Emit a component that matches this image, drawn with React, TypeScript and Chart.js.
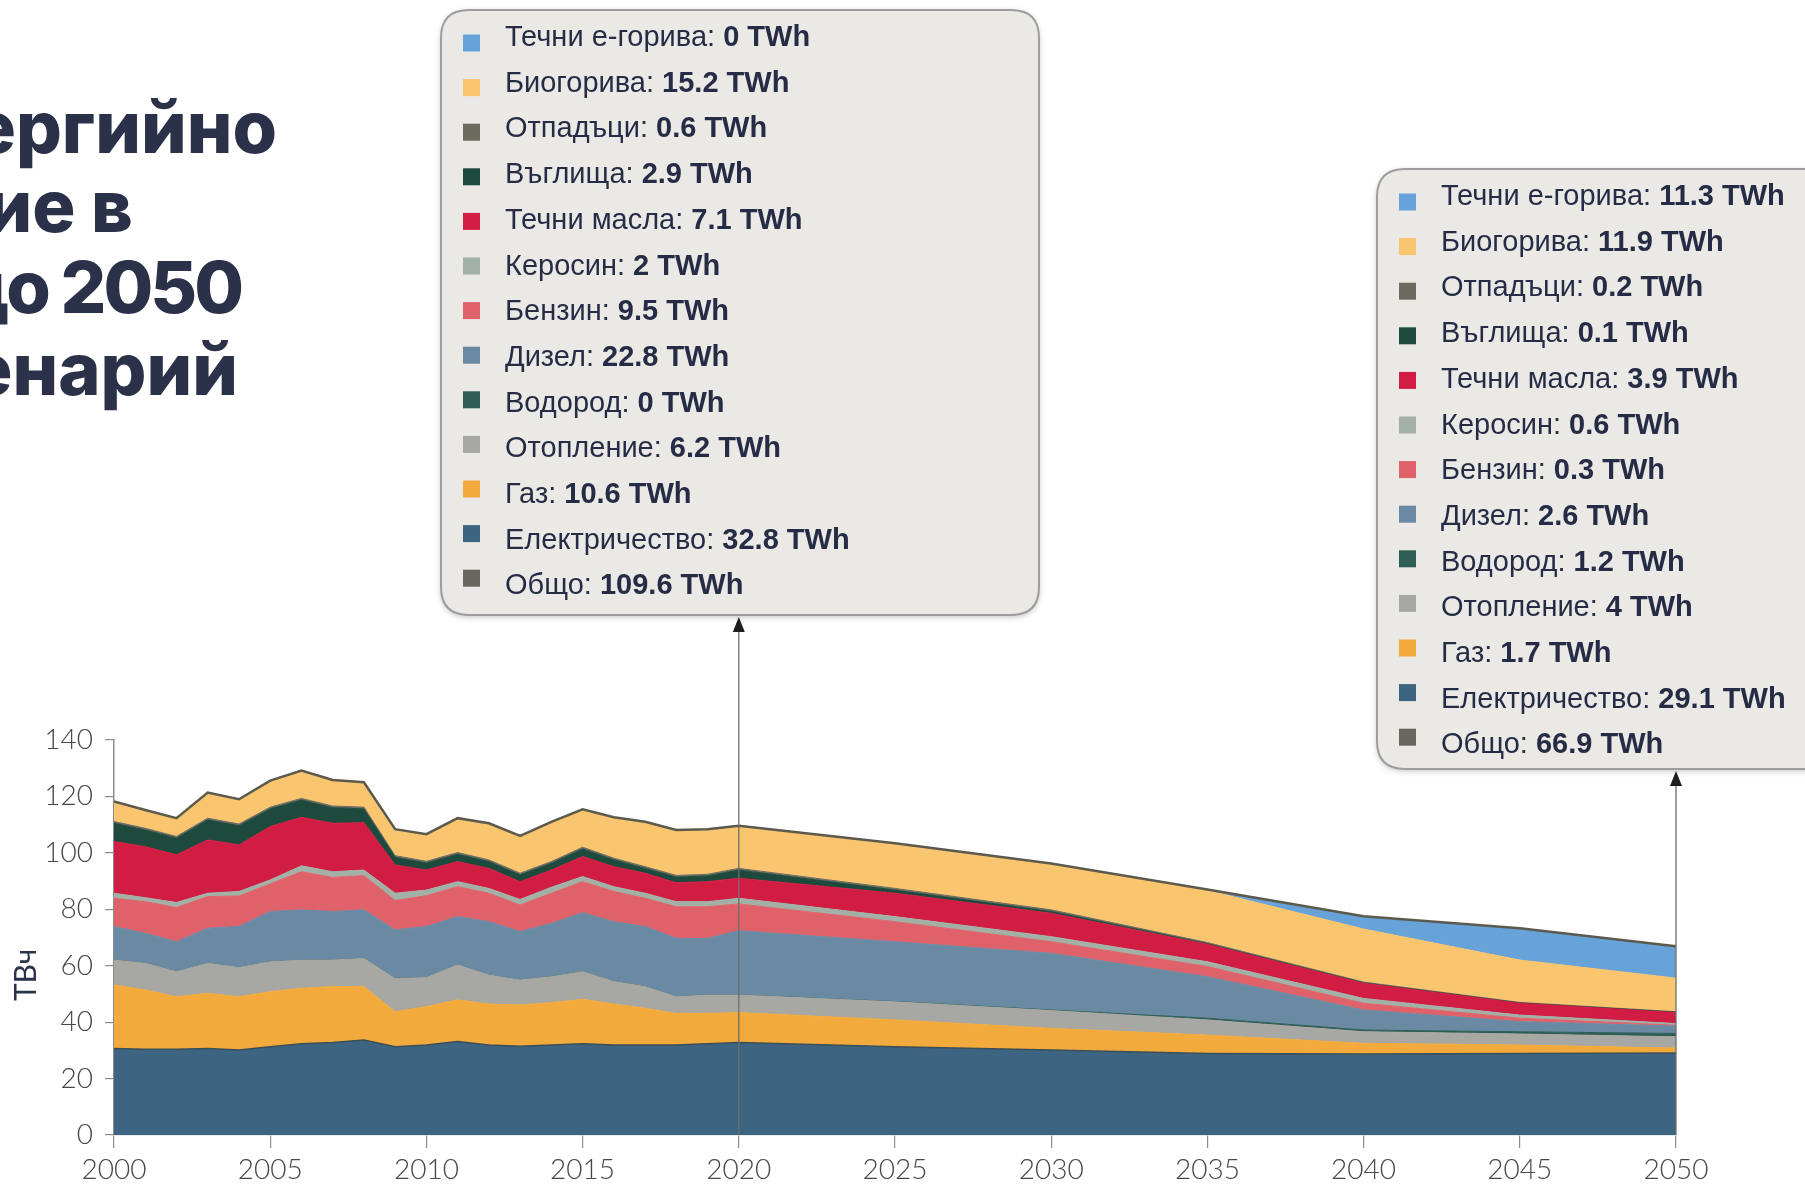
import React, { useEffect, useRef } from "react";
import { Chart, registerables } from "chart.js";

Chart.register(...registerables);

// ---------- DATA ----------
const YEARS = [
  2000, 2001, 2002, 2003, 2004, 2005, 2006, 2007, 2008, 2009, 2010, 2011, 2012, 2013,
  2014, 2015, 2016, 2017, 2018, 2019, 2020, 2025, 2030, 2035, 2040, 2045, 2050,
];

const ELECTRICITY = [30.7, 30.4, 30.4, 30.7, 30.1, 31.3, 32.3, 32.8, 33.7, 31.3, 31.9, 33.1, 31.9, 31.5, 31.9, 32.3, 31.9, 31.9, 31.9, 32.3, 32.8, 31.3, 30.1, 28.9, 28.7, 28.9, 29.1];
const GAS = [22.5, 21.0, 18.6, 19.5, 18.9, 19.5, 19.7, 19.8, 18.9, 12.4, 13.6, 14.8, 14.5, 14.6, 15.0, 15.8, 14.5, 13.0, 11.2, 10.8, 10.6, 9.5, 7.7, 6.5, 3.8, 3.0, 1.7];
const HEATING = [8.8, 9.5, 8.9, 10.7, 10.4, 10.6, 10.0, 9.4, 10.0, 11.8, 10.3, 12.4, 10.3, 8.8, 9.2, 9.8, 8.0, 7.7, 5.9, 6.5, 6.2, 6.4, 6.3, 5.4, 4.1, 3.9, 4.0];
const HYDROGEN = [0, 0, 0, 0, 0, 0, 0, 0, 0, 0, 0, 0, 0, 0, 0, 0, 0, 0, 0, 0, 0, 0.1, 0.2, 0.6, 0.6, 0.8, 1.2];
const DIESEL = [11.9, 10.6, 10.6, 12.4, 14.5, 17.8, 17.8, 17.2, 17.2, 17.2, 18.1, 17.1, 18.9, 17.2, 18.9, 20.9, 21.2, 21.3, 20.7, 20.1, 22.8, 21.2, 20.1, 14.7, 7.1, 3.6, 2.6];
const PETROL = [10.0, 11.2, 12.1, 11.2, 10.8, 9.8, 13.5, 12.1, 12.1, 10.4, 10.9, 10.6, 10.1, 9.4, 10.7, 11.0, 10.7, 10.0, 11.2, 11.2, 9.5, 7.1, 4.1, 3.6, 2.4, 1.2, 0.3];
const KEROSENE = [1.8, 1.4, 1.8, 1.2, 1.6, 1.4, 2.1, 2.0, 2.0, 2.6, 2.0, 1.8, 1.7, 2.0, 2.1, 1.8, 1.7, 1.8, 1.8, 1.8, 2.0, 1.8, 1.8, 1.7, 1.7, 1.1, 0.6];
const LIQUID_OILS = [18.3, 18.1, 16.9, 18.9, 16.5, 18.9, 17.2, 17.2, 16.8, 10.0, 7.1, 7.1, 7.1, 6.3, 6.1, 7.1, 7.1, 7.1, 6.7, 7.1, 7.1, 8.3, 8.3, 6.2, 5.4, 4.2, 3.9];
const COAL = [6.5, 5.9, 5.9, 7.1, 6.8, 6.3, 6.1, 5.5, 4.9, 2.7, 2.5, 2.6, 2.4, 2.4, 2.4, 2.7, 2.4, 1.7, 2.0, 2.0, 2.9, 1.1, 0.6, 0.2, 0.1, 0.1, 0.1];
const WASTE = [0.6, 0.6, 0.6, 0.6, 0.6, 0.6, 0.6, 0.6, 0.6, 0.6, 0.6, 0.6, 0.6, 0.6, 0.6, 0.6, 0.6, 0.6, 0.6, 0.6, 0.6, 0.6, 0.6, 0.4, 0.3, 0.2, 0.2];
const BIOFUELS = [7.1, 6.5, 6.5, 9.1, 8.8, 9.4, 9.9, 9.2, 8.8, 9.4, 9.6, 12.2, 13.0, 13.2, 14.1, 13.4, 14.5, 15.9, 16.1, 16.0, 15.2, 16.0, 16.4, 18.5, 18.8, 15.0, 11.9];
const E_FUELS = [0, 0, 0, 0, 0, 0, 0, 0, 0, 0, 0, 0, 0, 0, 0, 0, 0, 0, 0, 0, 0, 0, 0, 0.3, 4.5, 11.3, 11.3];
const TOTAL = [118.2, 115.2, 112.3, 121.4, 119.0, 125.6, 129.2, 125.8, 125.0, 108.4, 106.6, 112.3, 110.5, 106.0, 111.0, 115.4, 112.6, 111.0, 108.1, 108.4, 109.6, 103.4, 96.2, 87.0, 77.5, 73.3, 66.9];

// bottom -> top stacking order
const SERIES = [
  { label: "Електричество", data: ELECTRICITY, color: "#3d6481" },
  { label: "Газ", data: GAS, color: "#f3aa3c" },
  { label: "Отопление", data: HEATING, color: "#a7a7a3" },
  { label: "Водород", data: HYDROGEN, color: "#2e5d55" },
  { label: "Дизел", data: DIESEL, color: "#6a8aa4" },
  { label: "Бензин", data: PETROL, color: "#df6169" },
  { label: "Керосин", data: KEROSENE, color: "#a2b0a5" },
  { label: "Течни масла", data: LIQUID_OILS, color: "#d11c43" },
  { label: "Въглища", data: COAL, color: "#1d4a3c" },
  { label: "Отпадъци", data: WASTE, color: "#6b6b60" },
  { label: "Биогорива", data: BIOFUELS, color: "#f9c56f" },
  { label: "Течни е-горива", data: E_FUELS, color: "#67a3d8" },
];
const TOTAL_LABEL = "Общо";
const TOTAL_COLOR = "#5b5a4c";
const TOTAL_SQUARE = "#67675f";

const Y_TICKS_MAX = 140;
const Y_AXIS_TITLE = "ТВч";
const UNIT = "TWh";
const TOOLTIP_YEARS = [2020, 2050];

const TITLE_LINES = ["ергийно", "ие в", "до 2050", "енарий"];

// ---------- STYLE / LAYOUT ----------
const TOOLTIP_BOXES = [
  { x: 441, y: 10, w: 598, h: 605 },
  { x: 1377, y: 169, w: 520, h: 600 },
];
const TEXT_COLOR = "#262c45";
const TICK_FONT = { family: "Lato, 'DejaVu Sans', sans-serif", size: 28, weight: "300" };

function roundRectPath(ctx: CanvasRenderingContext2D, x: number, y: number, w: number, h: number, r: number) {
  ctx.beginPath();
  ctx.moveTo(x + r, y);
  ctx.lineTo(x + w - r, y);
  ctx.quadraticCurveTo(x + w, y, x + w, y + r);
  ctx.lineTo(x + w, y + h - r);
  ctx.quadraticCurveTo(x + w, y + h, x + w - r, y + h);
  ctx.lineTo(x + r, y + h);
  ctx.quadraticCurveTo(x, y + h, x, y + h - r);
  ctx.lineTo(x, y + r);
  ctx.quadraticCurveTo(x, y, x + r, y);
  ctx.closePath();
}

const overlayPlugin = {
  id: "overlay",
  afterDraw(chart: any) {
    const ctx: CanvasRenderingContext2D = chart.ctx;
    const xs = chart.scales.x;
    const area = chart.chartArea;

    // y axis title
    ctx.save();
    ctx.translate(26, 975);
    ctx.rotate(-Math.PI / 2);
    ctx.font = "30px Lato, 'DejaVu Sans', sans-serif";
    ctx.fillStyle = "#2a3149";
    ctx.textAlign = "center";
    ctx.textBaseline = "middle";
    ctx.fillText(Y_AXIS_TITLE, 0, 0);
    ctx.restore();

    TOOLTIP_YEARS.forEach((year, t) => {
      const box = TOOLTIP_BOXES[t];
      const idx = YEARS.indexOf(year);
      const px = xs.getPixelForValue(year);
      const tipY = box.y + box.h + 2;

      // vertical guide line + arrow
      ctx.save();
      ctx.strokeStyle = "#6e6e6e";
      ctx.lineWidth = 1.3;
      ctx.beginPath();
      ctx.moveTo(px, tipY + 12);
      ctx.lineTo(px, area.bottom);
      ctx.stroke();
      ctx.fillStyle = "#1e1e1e";
      ctx.beginPath();
      ctx.moveTo(px, tipY);
      ctx.lineTo(px - 6, tipY + 15);
      ctx.lineTo(px + 6, tipY + 15);
      ctx.closePath();
      ctx.fill();
      ctx.restore();

      // box
      ctx.save();
      ctx.shadowColor = "rgba(0,0,0,0.25)";
      ctx.shadowBlur = 6;
      ctx.shadowOffsetY = 2;
      roundRectPath(ctx, box.x, box.y, box.w, box.h, 28);
      ctx.fillStyle = "#ebe9e5";
      ctx.fill();
      ctx.shadowColor = "transparent";
      ctx.lineWidth = 2;
      ctx.strokeStyle = "#9d9d9d";
      ctx.stroke();
      ctx.restore();

      const rows = [...SERIES].reverse().map((s) => ({ label: s.label, value: s.data[idx], color: s.color }));
      rows.push({ label: TOTAL_LABEL, value: TOTAL[idx], color: TOTAL_SQUARE });

      ctx.save();
      ctx.textBaseline = "alphabetic";
      ctx.textAlign = "left";
      rows.forEach((r, i) => {
        const base = box.y + 36 + i * 45.7;
        const sqC = box.y + 33 + i * 44.6;
        ctx.fillStyle = r.color;
        ctx.fillRect(box.x + 22, sqC - 8.5, 17, 17);
        const tx = box.x + 64;
        ctx.fillStyle = TEXT_COLOR;
        ctx.font = "29px 'Liberation Sans', Arial, sans-serif";
        const lbl = r.label + ": ";
        ctx.fillText(lbl, tx, base);
        const w = ctx.measureText(lbl).width;
        ctx.font = "bold 29px 'Liberation Sans', Arial, sans-serif";
        ctx.fillText(`${r.value} ${UNIT}`, tx + w, base);
      });
      ctx.restore();
    });
  },
};

export default function App() {
  const canvasRef = useRef<HTMLCanvasElement | null>(null);

  useEffect(() => {
    if (!canvasRef.current) return;
    const datasets: any[] = SERIES.map((s, i) => ({
      label: s.label,
      data: YEARS.map((y, k) => ({ x: y, y: s.data[k] })),
      backgroundColor: s.color,
      borderColor: i === 0 ? "#3a4f58" : s.color,
      borderWidth: i === 0 ? 1.5 : 1,
      fill: i === 0 ? "origin" : "-1",
      pointRadius: 0,
      tension: 0,
      stack: "main",
      order: 1,
    }));
    datasets.push({
      label: TOTAL_LABEL,
      data: YEARS.map((y, k) => ({ x: y, y: TOTAL[k] })),
      borderColor: TOTAL_COLOR,
      backgroundColor: TOTAL_COLOR,
      borderWidth: 2.5,
      fill: false,
      pointRadius: 0,
      tension: 0,
      stack: "total",
      order: 0,
    });

    const chart = new Chart(canvasRef.current, {
      type: "line",
      data: { datasets },
      options: {
        responsive: false,
        animation: false,
        events: [],
        layout: { padding: { left: 0, top: 740, right: 129, bottom: 0 } },
        plugins: { legend: { display: false }, tooltip: { enabled: false }, title: { display: false } },
        scales: {
          x: {
            type: "linear",
            min: 2000,
            max: 2050,
            afterFit: (s: any) => {
              s.height = 49;
            },
            ticks: {
              stepSize: 5,
              callback: (v: any) => String(v),
              font: TICK_FONT as any,
              color: "#474747",
              padding: 5,
              maxRotation: 0,
            },
            grid: { drawOnChartArea: false, tickLength: 13, color: "#8c8c8c", lineWidth: 1.2 },
            border: { display: true, color: "#cfd7e0", width: 1.5 },
          },
          y: {
            stacked: true,
            min: 0,
            max: Y_TICKS_MAX,
            afterFit: (s: any) => {
              s.width = 114;
            },
            ticks: {
              stepSize: 20,
              font: TICK_FONT as any,
              color: "#474747",
              padding: 12,
            },
            grid: { drawOnChartArea: false, tickLength: 9, color: "#8c8c8c", lineWidth: 1.2 },
            border: { display: true, color: "#8c8c8c", width: 1.5 },
          },
        },
      },
      plugins: [overlayPlugin],
    } as any);
    return () => chart.destroy();
  }, []);

  const titleStyle = (right: number, top: number, spacing: number): React.CSSProperties => ({
    position: "fixed",
    left: -700,
    width: 700 + right,
    top,
    textAlign: "right",
    whiteSpace: "nowrap",
    fontFamily: "Inter, 'Noto Sans', sans-serif",
    fontWeight: 800,
    fontSize: 72,
    lineHeight: "72px",
    color: "#2a3149",
    letterSpacing: `${spacing}px`,
  });

  return (
    <div style={{ position: "fixed", left: 0, top: 0, width: 1805, height: 1184, background: "#fff", overflow: "hidden" }}>
      <canvas ref={canvasRef} width={1805} height={1184} style={{ position: "absolute", left: 0, top: 0 }} />
      <div style={titleStyle(277, 91, 0)}>{TITLE_LINES[0]}</div>
      <div style={titleStyle(133, 170, 0)}>{TITLE_LINES[1]}</div>
      <div style={titleStyle(241, 251, -3)}>{TITLE_LINES[2]}</div>
      <div style={titleStyle(238, 333, 0)}>{TITLE_LINES[3]}</div>
    </div>
  );
}
